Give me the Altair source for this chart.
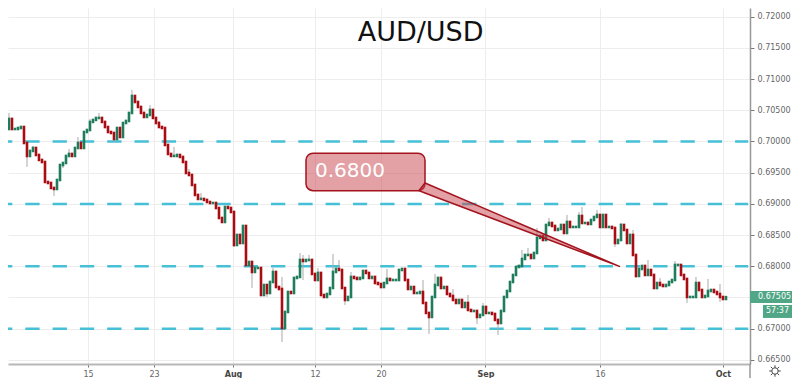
import altair as alt
import pandas as pd

closes = [
.70361,.70200,.70200,.70216,.70232,.69976,.69768,.69848,.69896,.69784,.69704,.69671,.69351,.69335,.69255,.69239,
.69383,.69623,.69655,.69768,.69800,.69768,.69896,.69976,.69896,.70152,.70184,.70313,.70345,.70377,.70377,.70313,
.70232,.70152,.70136,.70040,.70216,.70072,.70296,.70329,.70457,.70729,.70633,.70553,.70457,.70393,.70425,.70505,
.70377,.70296,.70232,.70216,.69944,.69800,.69768,.69768,.69784,.69752,.69671,.69495,.69463,.69303,.69143,.69079,
.69079,.69063,.69030,.69014,.69014,.68934,.68774,.68710,.68950,.68934,.68870,.68341,.68502,.68373,.68646,.68021,
.68069,.67909,.67973,.67973,.67540,.67700,.67572,.67748,.67909,.67668,.67636,.67011,.67268,.67588,.67572,.67813,
.67829,.68101,.68085,.68101,.68101,.67877,.67780,.67893,.67540,.67508,.67556,.67652,.67909,.67957,.67941,.67652,
.67460,.67508,.67829,.67813,.67797,.67813,.67925,.67893,.67813,.67829,.67732,.67716,.67668,.67732,.67797,.67780,
.67780,.67780,.67941,.67957,.67780,.67636,.67668,.67572,.67572,.67588,.67412,.67252,.67188,.67508,.67700,.67813,
.67652,.67668,.67556,.67524,.67460,.67412,.67460,.67348,.67412,.67300,.67284,.67284,.67188,.67220,.67348,.67252,
.67252,.67236,.67140,.67091,.67284,.67508,.67604,.67748,.67861,.67989,.68005,.68117,.68181,.68181,.68133,.68213,
.68454,.68486,.68421,.68662,.68694,.68646,.68582,.68598,.68662,.68534,.68710,.68630,.68630,.68630,.68806,.68694,
.68694,.68678,.68742,.68790,.68822,.68630,.68822,.68630,.68630,.68614,.68373,.68421,.68662,.68582,.68373,.68502,
.68181,.67845,.67957,.68005,.67861,.67941,.67861,.67652,.67732,.67700,.67684,.67700,.67748,.67780,.68021,.68021,
.67861,.67797,.67508,.67508,.67508,.67732,.67620,.67508,.67524,.67604,.67620,.67588,.67556,.67508,.67476,.67505,
]
wick_bars = [0,6,8,15,18,20,23,27,30,35,41,43,47,50,55,60,64,75,81,86,88,91,91,97,98,98,100,103,108,110,112,114,
             126,138,140,142,148,153,156,158,163,171,173,176,180,186,190,191,196,202,204,208,209,213,217,222,226,229,233,237,237]
wick_ends = [.70457,.69591,.69928,.69127,.69575,.69880,.70072,.70361,.70457,.69992,.70825,.70633,.70585,.70329,.69912,
             .69559,.69175,.68309,.67652,.67508,.67973,.67829,.66787,.68213,.68181,.67780,.68181,.67973,.68197,.68101,
             .67380,.67909,.67957,.67780,.66915,.67877,.67636,.67540,.67075,.67412,.66899,.68261,.68293,.68614,.68774,
             .68822,.68870,.68950,.68902,.68309,.68694,.68582,.67813,.68101,.67813,.68085,.67412,.67829,.67797,.67716,.67428]
tick_bars = [26.33,48.33,74.67,102,124,158.83,197,238]
tick_labels = ["15","23","Aug","12","20","Sep","16","Oct"]
price_ticks = [.665,.67,.675,.68,.685,.69,.695,.70,.705,.71,.715,.72]
level_prices = [.70,.69,.68,.67]

X0, X1, Y0, Y1 = -0.33, 247, .66434, .72139
FONT = "DejaVu Sans"
SUN = ("M -0.55 0 A 0.55 0.55 0 1 1 0.55 0 A 0.55 0.55 0 1 1 -0.55 0 "
       "M 0 -1 L 0 -0.55 M 0 1 L 0 0.55 M 1 0 L 0.55 0 M -1 0 L -0.55 0 "
       "M 0.72 0.72 L 0.39 0.39 M -0.72 0.72 L -0.39 0.39 M 0.72 -0.72 L 0.39 -0.39 M -0.72 -0.72 L -0.39 -0.39")

bars = pd.DataFrame({"bar": range(len(closes)), "close": closes})
bars["open"] = bars["close"].shift(1).fillna(.70200)
bars["dir"] = ["up" if c >= o else "down" for c, o in zip(bars["close"], bars["open"])]
wicks = pd.DataFrame({"bar": wick_bars, "end": wick_ends})
wicks["close"] = [closes[b] for b in wick_bars]

x_scale = alt.Scale(domain=[X0, X1], nice=False, zero=False)
y_scale = alt.Scale(domain=[Y0, Y1], nice=False, zero=False)

label_map = ",".join(f"'{v}':'{t}'" for v, t in zip(tick_bars, tick_labels))
x_axis = alt.Axis(values=tick_bars, labelExpr="({" + label_map + "})['' + datum.value]",
                  title=None, grid=True, gridColor="#ededed", gridWidth=1,
                  domainColor="#b8b8b8", domainWidth=2, tickColor="#777", tickSize=3,
                  labelFont=FONT, labelFontSize=8,
                  labelColor=alt.expr("indexof([74.67,158.83,238], datum.value) >= 0 ? '#444' : '#666'"),
                  labelFontWeight=alt.expr("indexof([74.67,158.83,238], datum.value) >= 0 ? 'bold' : 'normal'"),
                  labelPadding=3, labelFlush=False, labelOverlap=False)
y_axis = alt.Axis(values=price_ticks, orient="right", format=".5f", title=None, grid=True,
                  gridColor="#ededed", gridWidth=1, domainColor="#999", domainWidth=1.5,
                  tickColor="#777", tickSize=4, labelFont=FONT, labelFontSize=8, labelColor="#666",
                  labelPadding=3, labelOverlap=False, labelFlush=False)

X = lambda f: alt.X(f, type="quantitative", scale=x_scale, axis=x_axis)
Y = lambda f: alt.Y(f, type="quantitative", scale=y_scale, axis=y_axis)

levels = alt.Chart(pd.DataFrame({"p": level_prices, "a": [X0]*4, "b": [X1-0.6]*4})).mark_rule(
    color="#45c0d6", strokeWidth=2.5, strokeDash=[14.3, 13], strokeDashOffset=10
).encode(x=X("a:Q"), x2="b:Q", y=Y("p:Q"))

wick_layer = alt.Chart(wicks).mark_rule(color="#a9a9a9", strokeWidth=1).encode(
    x=X("bar:Q"), y=Y("close:Q"), y2="end:Q")

body = alt.Chart(bars).mark_rule(strokeWidth=2.6, strokeCap="square").encode(
    x=X("bar:Q"), y=Y("open:Q"), y2="close:Q",
    color=alt.Color("dir:N", legend=None,
                    scale=alt.Scale(domain=["up", "down"], range=["#1f7d5c", "#a80d14"])))

box = alt.Chart(pd.DataFrame({"a": [99], "b": [138.67], "p": [.69811], "q": [.69212]})).mark_rect(
    fill="#c8444e", fillOpacity=0.5, stroke="#a3141f", strokeWidth=1.5, cornerRadius=7
).encode(x=X("a:Q"), x2="b:Q", y=Y("p:Q"), y2="q:Q")

tail = alt.Chart(pd.DataFrame({"a": [136.67, 138.67, 203.67],
                               "p": [.69212, .69335, .67994],
                               "q": [.69212, .69175, .67994]})).mark_area(
    fill="#c8444e", fillOpacity=0.5, stroke="#a3141f", strokeWidth=1.5
).encode(x=X("a:Q"), y=Y("p:Q"), y2="q:Q")

def text(label, b, p, size, color, align="left", baseline="alphabetic"):
    return alt.Chart(pd.DataFrame({"b": [b], "p": [p], "t": [label]})).mark_text(
        font=FONT, fontSize=size, color=color, align=align, baseline=baseline
    ).encode(x=X("b:Q"), y=Y("p:Q"), text="t:N")

def tag(a, b, p, q):
    return alt.Chart(pd.DataFrame({"a": [a], "b": [b], "p": [p], "q": [q]})).mark_rect(
        fill="#50a685"
    ).encode(x=X("a:Q"), x2="b:Q", y=Y("p:Q"), y2="q:Q")

axis_ext = alt.Chart(pd.DataFrame({"a": [X1], "p": [Y0], "q": [.6621]})).mark_rule(
    color="#999", strokeWidth=1.5).encode(x=X("a:Q"), y=Y("p:Q"), y2="q:Q")

sun = alt.Chart(pd.DataFrame({"b": [255.33], "p": [.66322]})).mark_point(
    shape=SUN, size=130, filled=False, stroke="#444444", strokeWidth=1, opacity=1
).encode(x=X("b:Q"), y=Y("p:Q"))

chart = alt.layer(
    levels, wick_layer, body, box, tail,
    text("AUD/USD", 137.2, .71611, 27, "#111", "center"),
    text("0.6800", 102, .69431, 20, "#ffffff"),
    axis_ext,
    tag(247, 261, .67604, .67412),
    tag(251.33, 261, .67380, .67172),
    text("0.67505", 249.67, .67508, 8, "#ffffff", "left", "middle"),
    text("57:37", 252.33, .67276, 8, "#ffffff", "left", "middle"),
    sun,
).properties(width=742, height=356, background="white",
             padding={"left": 0, "top": 0, "right": 42, "bottom": 14},
             autosize=alt.AutoSizeParams(type="none")
).configure_view(stroke=None)

chart.save("out.html", embed_options={"renderer": "svg", "actions": False})
